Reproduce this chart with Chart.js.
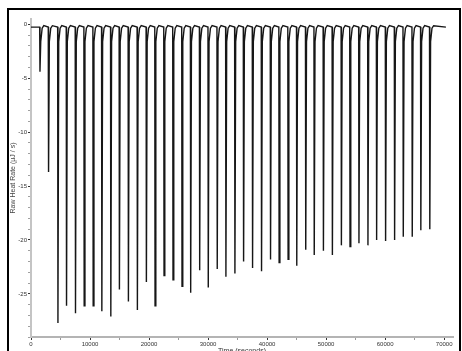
<!DOCTYPE html>
<html>
<head>
<meta charset="utf-8">
<script src="https://cdn.jsdelivr.net/npm/chart.js@4.4.0/dist/chart.umd.min.js"></script>
<style>
  html, body { margin: 0; padding: 0; background: #fff; overflow: hidden; }
  #wrap { position: relative; width: 462px; height: 351px; overflow: hidden; }
  #frame { position: absolute; left: 7px; top: 8px; width: 450px; height: 360px;
           border: 2px solid #000; pointer-events: none; }
  canvas { position: absolute; left: 0; top: 0; }
</style>
</head>
<body>
<div id="wrap">
  <canvas id="myChart" width="462" height="362"></canvas>
  <div id="frame"></div>
</div>
<script>
// injection times (s) and peak minimum of each injection (µJ/s)
const injTimes = [1470, 2925, 4515, 5970, 7490, 8960, 10485, 11955, 13475, 14930,
    16455, 17975, 19500, 20970, 22490, 24010, 25535, 27005, 28530, 29985,
    31505, 32975, 34500, 35970, 37490, 39010, 40535, 41990, 43510, 44980,
    46500, 47940, 49495, 51015, 52540, 54000, 55515, 57040, 58510, 60030,
    61555, 63025, 64545, 66000, 67520];
const peakMins = [-4.4, -13.7, -27.7, -26.1, -26.8, -26.1, -26.1, -26.6, -27.1, -24.6,
    -25.7, -26.5, -23.9, -26.1, -23.3, -23.7, -24.3, -24.9, -22.8, -24.4,
    -22.7, -23.4, -23.1, -22.0, -22.6, -22.9, -21.8, -22.1, -21.8, -22.4,
    -20.9, -21.4, -21.0, -21.4, -20.5, -20.6, -20.3, -20.5, -20.0, -20.1,
    -20.0, -19.7, -19.7, -19.1, -19.0];
// baseline and the recovery shape after each peak
const baseline = -0.25;
const recoveryDelay = [50, 180, 420, 700];
const recoveryLevel = [null, -1.6, -0.35, -0.12];
const runStart = 0;
const runEnd = 70300;

// tick positions; labelled ones are the majors
const xTicks = [0, 5000, 10000, 15000, 20000, 25000, 30000, 35000, 40000,
    45000, 50000, 55000, 60000, 65000, 70000];
const xLabels = [0, 10000, 20000, 30000, 40000, 50000, 60000, 70000];
const yTicks = [-29, -28, -27, -26, -25, -24, -23, -22, -21, -20, -19, -18, -17, -16,
    -15, -14, -13, -12, -11, -10, -9, -8, -7, -6, -5, -4, -3, -2, -1, 0];
const yLabels = [-25, -20, -15, -10, -5, 0];

var trace = [{ x: runStart, y: baseline }];
injTimes.forEach(function (t, i) {
    trace.push({ x: t, y: baseline });
    recoveryDelay.forEach(function (d, k) {
        var v = recoveryLevel[k] === null ? peakMins[i] : recoveryLevel[k];
        trace.push({ x: t + d, y: v });
    });
});
trace.push({ x: runEnd, y: baseline });

const tickFont = { family: 'Arial, "Liberation Sans", sans-serif', size: 6 };
const titleFont = { family: 'Arial, "Liberation Sans", sans-serif', size: 7 };

function setTicks(list) {
    return function (scale) {
        scale.ticks = list.map(function (v) { return { value: v }; });
    };
}

const config = {
    type: 'line',
    data: {
        datasets: [
            {
                label: 'Raw Heat Rate',
                borderColor: '#161616',
                borderWidth: 1.4,
                pointRadius: 0,
                tension: 0,
                fill: false,
                data: trace
            }
        ]
    },
    options: {
        responsive: false,
        animation: false,
        layout: { padding: { left: 9, right: 9, top: 19, bottom: 7 } },
        plugins: { legend: { display: false }, tooltip: { enabled: false } },
        scales: {
            x: {
                type: 'linear',
                min: 0,
                max: 71500,
                afterBuildTicks: setTicks(xTicks),
                afterFit: function (scale) { scale.height = 18; },
                border: { color: '#b4b4b4', width: 2 },
                grid: {
                    drawOnChartArea: false,
                    tickLength: 3,
                    tickColor: function (ctx) {
                        return xLabels.indexOf(ctx.tick.value) >= 0 ? '#333' : '#999';
                    }
                },
                ticks: {
                    autoSkip: false,
                    maxRotation: 0,
                    padding: 1,
                    color: '#333',
                    font: tickFont,
                    callback: function (v) { return xLabels.indexOf(v) >= 0 ? String(v) : ''; }
                },
                title: {
                    display: true,
                    text: 'Time (seconds)',
                    color: '#333',
                    padding: 0,
                    font: titleFont
                }
            },
            y: {
                min: -29,
                max: 0.5,
                afterBuildTicks: setTicks(yTicks),
                afterFit: function (scale) { scale.width = 22; },
                border: { color: '#c4c4c4', width: 2 },
                grid: {
                    drawOnChartArea: false,
                    tickLength: 3,
                    tickColor: function (ctx) {
                        return yLabels.indexOf(ctx.tick.value) >= 0 ? '#333' : '#a0a0a0';
                    }
                },
                ticks: {
                    autoSkip: false,
                    padding: 1,
                    color: '#333',
                    font: tickFont,
                    callback: function (v) { return yLabels.indexOf(v) >= 0 ? String(v) : ''; }
                },
                title: {
                    display: true,
                    text: 'Raw Heat Rate (µJ / s)',
                    color: '#444',
                    padding: 0,
                    font: titleFont
                }
            }
        }
    }
};

var myChart = new Chart(
    document.getElementById('myChart'),
    config
);
</script>
</body>
</html>
